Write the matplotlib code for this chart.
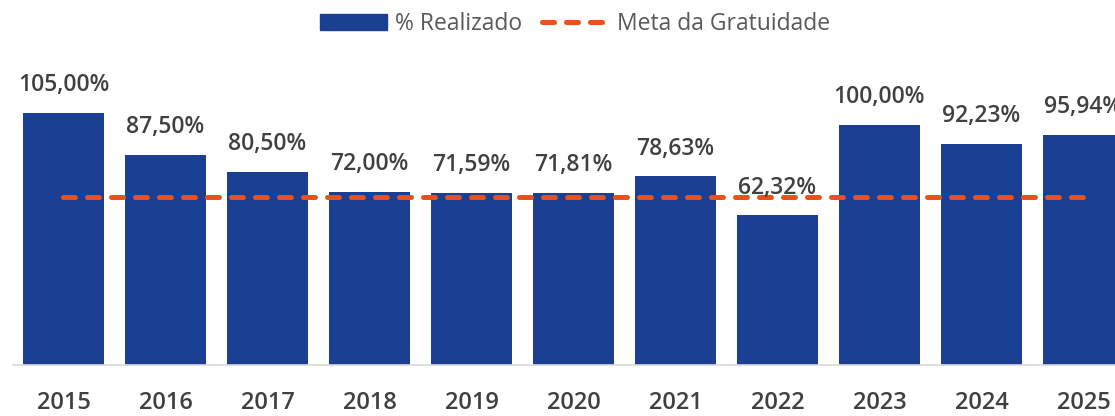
import matplotlib.pyplot as plt
from matplotlib.patches import Patch
from matplotlib.lines import Line2D

anos = ['2015', '2016', '2017', '2018', '2019', '2020', '2021', '2022', '2023', '2024', '2025']
realizado = [105.00, 87.50, 80.50, 72.00, 71.59, 71.81, 78.63, 62.32, 100.00, 92.23, 95.94]
meta = [70.0] * len(anos)

azul = '#1A3F93'
laranja = '#E9501A'
cinza = '#404040'

plt.rcParams['font.family'] = ['Open Sans', 'DejaVu Sans']

fig = plt.figure(figsize=(11.15, 4.16), dpi=100)
# axes placed in pixels: left 13, baseline 365 from top, runs past right edge
ax = fig.add_axes([13 / 1115, 51 / 416, 1102 / 1115, 360 / 416])

x = list(range(len(anos)))
ax.bar(x, realizado, width=0.79, color=azul, zorder=2)
ax.plot(x, meta, color=laranja, lw=3.6, dashes=(2.4, 2.4),
        dash_capstyle='round', zorder=3)

for xi, v in zip(x, realizado):
    txt = f'{v:.2f}'.replace('.', ',') + '%'
    ax.annotate(txt, (xi, v), xytext=(0, 20), textcoords='offset points',
                ha='center', va='center', fontsize=16.5, fontweight=600,
                color=cinza)

ax.set_xlim(-0.495, 10.309)
ax.set_ylim(0, 150)
ax.set_xticks(x)
ax.set_xticklabels(anos, fontsize=17, fontweight=600, color=cinza)
ax.tick_params(axis='x', length=0, pad=19)
ax.set_yticks([])
for s in ['top', 'right', 'left']:
    ax.spines[s].set_visible(False)
ax.spines['bottom'].set_color('#D9D9D9')
ax.spines['bottom'].set_linewidth(1.2)

handles = [Patch(facecolor=azul, edgecolor=azul),
           Line2D([0], [0], color=laranja, lw=3.6, dashes=(2.4, 2.4),
                  dash_capstyle='round')]
fig.legend(handles, ['% Realizado', 'Meta da Gratuidade'], loc='center',
           bbox_to_anchor=(575 / 1115, 1 - 24 / 416), ncol=2, frameon=False,
           fontsize=16.5, labelcolor='#595959', handlelength=2.9,
           handleheight=0.75, handletextpad=0.35, columnspacing=0.9)

fig.savefig('out.png', dpi=100)
